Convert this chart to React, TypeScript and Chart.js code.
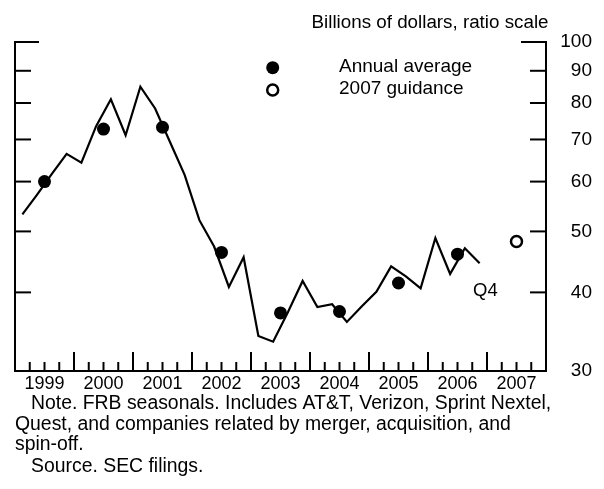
import React, { useEffect, useRef } from "react";
import { Chart, registerables } from "chart.js";

Chart.register(...registerables);

const FONT = "'Liberation Sans', Arial, Helvetica, sans-serif";

const YEARS = [1999, 2000, 2001, 2002, 2003, 2004, 2005, 2006];
// Quarterly values, Q1..Q4 for each year (billions of dollars)
const Q_1999 = [53.2, 57.2, 61.7, 66.4];
const Q_2000 = [64.3, 73.5, 81.1, 71.1];
const Q_2001 = [84.9, 78.4, 69.4, 61.5];
const Q_2002 = [52.1, 47.3, 40.8, 45.5];
const Q_2003 = [34.1, 33.4, 37.2, 41.7];
const Q_2004 = [37.9, 38.3, 35.9, 38.0];
const Q_2005 = [40.1, 44.0, 42.4, 40.6];
const Q_2006 = [48.8, 42.8, 47.0, 44.5];
const QUARTERLY = [Q_1999, Q_2000, Q_2001, Q_2002, Q_2003, Q_2004, Q_2005, Q_2006];

const ANNUAL_AVG = [60.0, 72.7, 73.2, 46.3, 37.1, 37.3, 41.4, 46.0];
const GUIDANCE_YEAR = 2007;
const GUIDANCE_VALUE = 48.2;

const X_LABEL_YEARS = [1999, 2000, 2001, 2002, 2003, 2004, 2005, 2006, 2007];
const Y_TICKS = [30, 40, 50, 60, 70, 80, 90, 100];

const TITLE = "Billions of dollars, ratio scale";
const LEGEND_ANNUAL = "Annual average";
const LEGEND_GUIDANCE = "2007 guidance";
const Q4_LABEL = "Q4";
const NOTES = [
  { text: "Note. FRB seasonals. Includes AT&T, Verizon, Sprint Nextel,", indent: true },
  { text: "Quest, and companies related by merger, acquisition, and", indent: false },
  { text: "spin-off.", indent: false },
  { text: "Source. SEC filings.", indent: true },
];

const decorPlugin = {
  id: "decor",
  afterDraw(chart: any) {
    const { ctx, chartArea: a, scales } = chart;
    const xs = scales.x;
    const ys = scales.y;
    ctx.save();
    ctx.strokeStyle = "#000";
    ctx.lineWidth = 2;
    ctx.lineCap = "butt";
    ctx.lineJoin = "miter";
    const seg = (x1: number, y1: number, x2: number, y2: number) => {
      ctx.beginPath();
      ctx.moveTo(x1, y1);
      ctx.lineTo(x2, y2);
      ctx.stroke();
    };
    // frame
    const topY = ys.getPixelForValue(100);
    ctx.beginPath();
    ctx.moveTo(a.left + 24, topY);
    ctx.lineTo(a.left, topY);
    ctx.lineTo(a.left, a.bottom);
    ctx.lineTo(a.right, a.bottom);
    ctx.lineTo(a.right, topY);
    ctx.lineTo(a.right - 25, topY);
    ctx.stroke();
    // y ticks (inside, both sides)
    for (const v of Y_TICKS) {
      if (v === 30 || v === 100) continue;
      const py = ys.getPixelForValue(v);
      seg(a.left, py, a.left + 16, py);
      seg(a.right - 16, py, a.right, py);
    }
    // x ticks: quarterly
    const x0 = X_LABEL_YEARS[0];
    const x1 = X_LABEL_YEARS[X_LABEL_YEARS.length - 1] + 1;
    for (let i = 1; i < (x1 - x0) * 4; i++) {
      const v = x0 + i / 4;
      const px = xs.getPixelForValue(v);
      const len = i % 4 === 0 ? 19 : 9;
      seg(px, a.bottom, px, a.bottom - len);
    }
    // texts
    ctx.fillStyle = "#000";
    ctx.textBaseline = "middle";
    ctx.textAlign = "right";
    ctx.font = `18.8px ${FONT}`;
    ctx.fillText(TITLE, 548.5, 23);
    ctx.textAlign = "left";
    ctx.font = `19px ${FONT}`;
    ctx.fillText(LEGEND_ANNUAL, 339, 67);
    ctx.fillText(LEGEND_GUIDANCE, 339, 89);
    ctx.font = `18.5px ${FONT}`;
    ctx.fillText(Q4_LABEL, 473, 291);
    // legend markers
    ctx.beginPath();
    ctx.arc(272.7, 67.7, 6.5, 0, Math.PI * 2);
    ctx.fill();
    ctx.beginPath();
    ctx.lineWidth = 2.5;
    ctx.fillStyle = "#fff";
    ctx.arc(272.7, 90, 5.5, 0, Math.PI * 2);
    ctx.fill();
    ctx.stroke();
    // notes
    ctx.fillStyle = "#000";
    ctx.font = `19.4px ${FONT}`;
    const noteY = [404, 424.5, 445, 467];
    NOTES.forEach((n, i) => {
      ctx.fillText(n.text, n.indent ? 31 : 15, noteY[i]);
    });
    ctx.restore();
  },
};

export default function App() {
  const ref = useRef<HTMLCanvasElement | null>(null);
  useEffect(() => {
    if (!ref.current) return;
    Chart.defaults.font.family = FONT;
    Chart.defaults.font.size = 19;
    Chart.defaults.color = "#000";
    const lineData: { x: number; y: number }[] = [];
    QUARTERLY.forEach((qs, yi) => {
      qs.forEach((v, qi) => lineData.push({ x: YEARS[yi] + (qi + 0.5) / 4, y: v }));
    });
    const chart = new Chart(ref.current, {
      type: "scatter",
      data: {
        datasets: [
          {
            label: "Quarterly",
            data: lineData,
            showLine: true,
            borderColor: "#000",
            borderWidth: 2.2,
            pointRadius: 0,
            tension: 0,
            fill: false,
          },
          {
            label: LEGEND_ANNUAL,
            data: ANNUAL_AVG.map((v, i) => ({ x: YEARS[i] + 0.5, y: v })),
            showLine: false,
            pointRadius: 6.5,
            backgroundColor: "#000",
            borderColor: "#000",
            borderWidth: 0,
          },
          {
            label: LEGEND_GUIDANCE,
            data: [{ x: GUIDANCE_YEAR + 0.5, y: GUIDANCE_VALUE }],
            showLine: false,
            pointRadius: 5.5,
            backgroundColor: "#fff",
            borderColor: "#000",
            borderWidth: 2.5,
          },
        ],
      },
      options: {
        responsive: false,
        animation: false,
        devicePixelRatio: 1,
        layout: { padding: { left: 15, top: 42, right: 12, bottom: 0 } },
        plugins: { legend: { display: false }, tooltip: { enabled: false } },
        scales: {
          x: {
            type: "linear",
            min: X_LABEL_YEARS[0],
            max: X_LABEL_YEARS[X_LABEL_YEARS.length - 1] + 1,
            grid: { display: false, drawTicks: false },
            border: { display: false },
            afterBuildTicks: (s: any) => {
              s.ticks = X_LABEL_YEARS.map((yr) => ({ value: yr + 0.5 }));
            },
            afterFit: (s: any) => {
              s.height = 118;
            },
            ticks: {
              autoSkip: false,
              maxRotation: 0,
              padding: 2.5,
              color: "#000",
              font: { size: 18, family: FONT },
              callback: (v: any) => String(Math.floor(Number(v))),
            },
          },
          y: {
            type: "logarithmic",
            position: "right",
            min: 30,
            max: 100,
            grid: { display: false, drawTicks: false },
            border: { display: false },
            afterBuildTicks: (s: any) => {
              s.ticks = Y_TICKS.map((v) => ({ value: v }));
            },
            afterFit: (s: any) => {
              s.width = 46;
            },
            ticks: {
              autoSkip: false,
              crossAlign: "far",
              color: "#000",
              font: { size: 19, family: FONT },
              callback: (v: any) => String(v),
            },
          },
        },
      },
      plugins: [decorPlugin],
    } as any);
    return () => chart.destroy();
  }, []);
  return (
    <div style={{ position: "absolute", left: 0, top: 0, width: 604, height: 489, background: "#fff" }}>
      <canvas ref={ref} width={604} height={489} style={{ display: "block" }} />
    </div>
  );
}
